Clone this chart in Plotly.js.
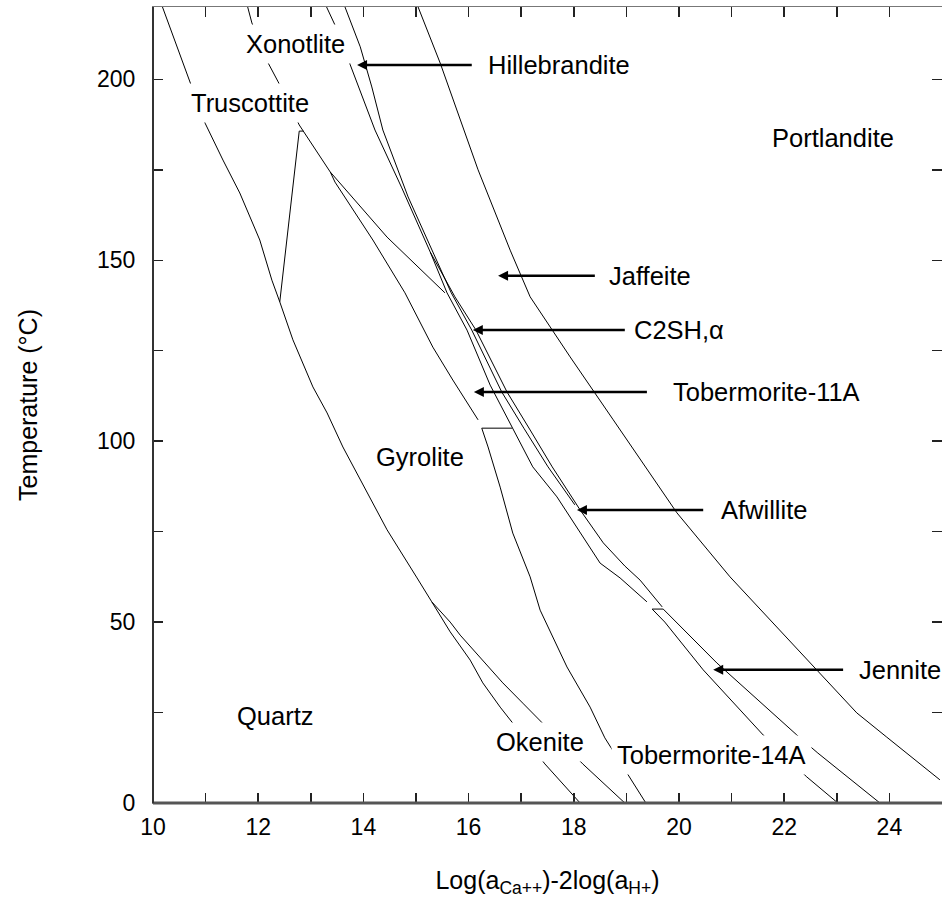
<!DOCTYPE html>
<html>
<head>
<meta charset="utf-8">
<script src="https://cdn.plot.ly/plotly-3.0.1.min.js"></script>
<style>
html,body{margin:0;padding:0;background:#fff;}
#chart{width:942px;height:907px;}
</style>
</head>
<body>
<div id="chart"></div>
<script>
// Phase boundaries: x = log(aCa++) - 2 log(aH+), y = temperature (°C)
const quartzUpperX = [10.18, 10.70, 10.99, 11.33, 11.65, 12.03, 12.26, 12.41, 12.66, 13.04, 13.31, 13.61, 14.07, 14.45, 15.02, 15.30];
const quartzUpperY = [220, 199.3, 187.9, 177.7, 168.6, 155.6, 144.5, 138.5, 128.0, 115.0, 107.8, 98.4, 85.7, 75.5, 62.2, 55.6];

const quartzOkeniteX = [15.30, 15.65, 16.03, 16.27, 16.60, 16.84, 17.45, 18.12];
const quartzOkeniteY = [55.6, 47.3, 39.5, 33.2, 26.5, 22.1, 10.8, 0];

const okeniteGyroliteX = [15.30, 15.65, 15.84, 16.27, 16.65, 17.03, 17.40, 18.17, 18.97];
const okeniteGyroliteY = [55.6, 50.0, 46.4, 39.5, 33.2, 27.6, 22.1, 10.8, 0];

const truscottiteGyroliteX = [12.41, 12.78, 12.86];
const truscottiteGyroliteY = [138.5, 185.7, 185.7];

const truscottiteXonotliteX = [11.80, 11.88, 12.19, 12.38, 12.78];
const truscottiteXonotliteY = [220, 215.6, 204.5, 199.3, 187.4];

const gyroliteXonotliteX = [12.78, 13.37];
const gyroliteXonotliteY = [187.4, 174.4];

const gyroliteTob11X = [13.37, 13.46, 14.18, 14.79, 15.32, 15.70, 16.18];
const gyroliteTob11Y = [174.4, 171.6, 155.6, 141.0, 126.0, 116.9, 105.9];

const tob11XonotliteX = [13.37, 14.45, 15.55];
const tob11XonotliteY = [174.4, 156.4, 141.0];

const tob11Tob14X = [16.25, 16.83];
const tob11Tob14Y = [103.6, 103.6];

const gyroliteTob14X = [16.25, 16.37, 16.60, 16.84, 17.17, 17.36, 17.87, 18.31, 18.59, 19.05, 19.37];
const gyroliteTob14Y = [103.6, 98.4, 87.3, 74.6, 62.5, 53.3, 37.6, 26.5, 18.0, 7.2, 0];

const bundleLeftX = [13.30, 13.46, 13.75, 14.22, 14.73, 15.27, 15.59, 15.97, 16.41, 16.84, 17.22, 17.68, 18.12, 18.50, 18.88, 19.39];
const bundleLeftY = [220, 215.0, 204.0, 186.0, 170.0, 152.3, 141.0, 130.7, 115.5, 103.6, 92.9, 84.6, 74.6, 66.3, 62.2, 55.6];

const bundleMidX = [13.65, 13.94, 14.16, 14.37, 14.85, 15.32, 15.67, 16.06, 16.63, 17.05, 17.51, 18.02];
const bundleMidY = [220, 209.0, 197.9, 186.0, 167.5, 152.3, 141.0, 130.7, 113.6, 103.6, 92.9, 82.4];

const bundleRightX = [15.27, 15.74, 16.14, 16.73, 17.17, 17.59, 18.12, 18.56, 18.97, 19.26, 19.68];
const bundleRightY = [152.3, 139.9, 130.7, 113.6, 103.1, 92.9, 81.0, 71.9, 65.5, 61.6, 54.2];

const tob14JenniteX = [19.49, 19.70];
const tob14JenniteY = [53.6, 53.6];

const jenniteLeftX = [19.49, 19.73, 20.46, 21.60, 22.43, 23.02];
const jenniteLeftY = [53.6, 50.0, 36.8, 18.8, 7.2, 0];

const jenniteRightX = [19.70, 20.72, 22.24, 22.64, 23.82];
const jenniteRightY = [53.6, 38.7, 18.8, 13.8, 0];

const portlanditeX = [15.04, 15.46, 16.18, 16.79, 17.17, 17.93, 18.75, 19.96, 20.97, 22.62, 23.38, 23.95, 24.96];
const portlanditeY = [220, 204.5, 175.0, 152.8, 139.9, 123.3, 105.9, 80.2, 62.5, 36.8, 24.9, 18.2, 6.4];

// Field names
const fieldNames = ['Xonotlite', 'Truscottite', 'Portlandite', 'Gyrolite', 'Quartz', 'Okenite', 'Tobermorite-14A'];
const pointedNames = ['Hillebrandite', 'Jaffeite', 'C2SH,α', 'Tobermorite-11A', 'Afwillite', 'Jennite'];

// Tick values
const xTicks = [10, 12, 14, 16, 18, 20, 22, 24];
const yTicks = [0, 50, 100, 150, 200];

const curves = [
  [quartzUpperX, quartzUpperY], [quartzOkeniteX, quartzOkeniteY], [okeniteGyroliteX, okeniteGyroliteY],
  [truscottiteGyroliteX, truscottiteGyroliteY], [truscottiteXonotliteX, truscottiteXonotliteY],
  [gyroliteXonotliteX, gyroliteXonotliteY], [gyroliteTob11X, gyroliteTob11Y], [tob11XonotliteX, tob11XonotliteY],
  [tob11Tob14X, tob11Tob14Y], [gyroliteTob14X, gyroliteTob14Y], [bundleLeftX, bundleLeftY],
  [bundleMidX, bundleMidY], [bundleRightX, bundleRightY], [tob14JenniteX, tob14JenniteY],
  [jenniteLeftX, jenniteLeftY], [jenniteRightX, jenniteRightY], [portlanditeX, portlanditeY]
];

const traces = curves.map(c => ({
  x: c[0], y: c[1], type: 'scatter', mode: 'lines',
  line: {color: '#000', width: 1},
  hoverinfo: 'skip', showlegend: false
}));

// ---- layout-only placement of labels and pointer arrows ----
const W = 942, H = 907, ML = 153, MR = 0, MT = 7, MB = 104;
const pxPerX = (W - ML - MR) / 15;

const fieldPos = [[12.70, 209.8], [11.84, 193.5], [22.93, 183.8], [15.08, 95.6], [12.32, 24.0], [17.36, 16.9], [20.61, 13.3]];
const pointerPos = [ // [head x, tail x, y, text left x]
  [13.88, 16.06, 204.0, 16.33],
  [16.56, 18.40, 145.7, 18.63],
  [16.08, 18.97, 130.7, 19.11],
  [16.10, 19.39, 113.6, 19.85],
  [18.06, 20.46, 81.0, 20.76],
  [20.65, 23.12, 36.8, 23.38]
];

// arrowheads (tip at the point)
traces.push({
  x: pointerPos.map(p => p[0]), y: pointerPos.map(p => p[2]),
  type: 'scatter', mode: 'markers',
  marker: {symbol: 'arrow-left', size: 10, color: '#000', line: {width: 0}},
  hoverinfo: 'skip', showlegend: false, cliponaxis: false
});

const FONT = 'Liberation Sans, Arial, Helvetica, sans-serif';
const LABEL_SIZE = 25.5;
const annotations = [];
fieldNames.forEach((t, i) => {
  annotations.push({
    x: fieldPos[i][0], y: fieldPos[i][1], xref: 'x', yref: 'y', text: t,
    showarrow: false, xanchor: 'center', yanchor: 'middle',
    font: {family: FONT, size: LABEL_SIZE, color: '#000'},
    bgcolor: '#fff', borderpad: 5
  });
});
pointedNames.forEach((t, i) => {
  const p = pointerPos[i];
  annotations.push({
    x: p[3], y: p[2], xref: 'x', yref: 'y', text: t,
    showarrow: false, xanchor: 'left', yanchor: 'middle',
    font: {family: FONT, size: LABEL_SIZE, color: '#000'}
  });
});

const shapes = pointerPos.map(p => ({
  type: 'line', xref: 'x', yref: 'y',
  x0: p[1], y0: p[2], x1: p[0] + 5 / pxPerX, y1: p[2],
  line: {color: '#000', width: 2.5}, layer: 'above'
}));
shapes.push(
  {type: 'line', xref: 'paper', yref: 'paper', x0: 0, x1: 1, y0: 0, y1: 0, line: {color: '#555', width: 3}, layer: 'above'},
  {type: 'line', xref: 'paper', yref: 'paper', x0: 0, x1: 0, y0: 0, y1: 1, line: {color: '#333', width: 2}, layer: 'above'}
);

const minorX = {dtick: 1, tick0: 10, ticks: 'inside', ticklen: 10, tickwidth: 1.5, tickcolor: '#222', showgrid: false};
const minorY = {dtick: 25, tick0: 0, ticks: 'inside', ticklen: 10, tickwidth: 1.5, tickcolor: '#222', showgrid: false};

const layout = {
  width: W, height: H,
  margin: {l: ML, r: MR, t: MT, b: MB, pad: 0},
  paper_bgcolor: '#fff', plot_bgcolor: '#fff',
  showlegend: false,
  font: {family: FONT, size: 23, color: '#000'},
  xaxis: {
    range: [10, 25], tickmode: 'array', tickvals: xTicks, ticktext: xTicks.map(String),
    ticks: 'inside', ticklen: 10, tickwidth: 1.5, tickcolor: '#222', minor: minorX,
    showline: true, linecolor: '#777', linewidth: 1, mirror: 'ticks',
    showgrid: false, zeroline: false, ticklabelstandoff: 3,
    tickfont: {family: FONT, size: 23, color: '#000'},
    title: {text: 'Log(a<sub>Ca++</sub>)-2log(a<sub>H+</sub>)', font: {family: FONT, size: 25, color: '#000'}, standoff: 32}
  },
  yaxis: {
    range: [0, 220], tickmode: 'array', tickvals: yTicks, ticktext: yTicks.map(String),
    ticks: 'inside', ticklen: 10, tickwidth: 1.5, tickcolor: '#222', minor: minorY,
    showline: true, linecolor: '#777', linewidth: 1, mirror: 'ticks',
    showgrid: false, zeroline: false, ticklabelstandoff: 12,
    tickfont: {family: FONT, size: 23, color: '#000'},
    title: {text: 'Temperature (°C)', font: {family: FONT, size: 25, color: '#000'}, standoff: 52}
  },
  shapes: shapes,
  annotations: annotations
};

Plotly.newPlot('chart', traces, layout, {displayModeBar: false, staticPlot: true});
</script>
</body>
</html>
